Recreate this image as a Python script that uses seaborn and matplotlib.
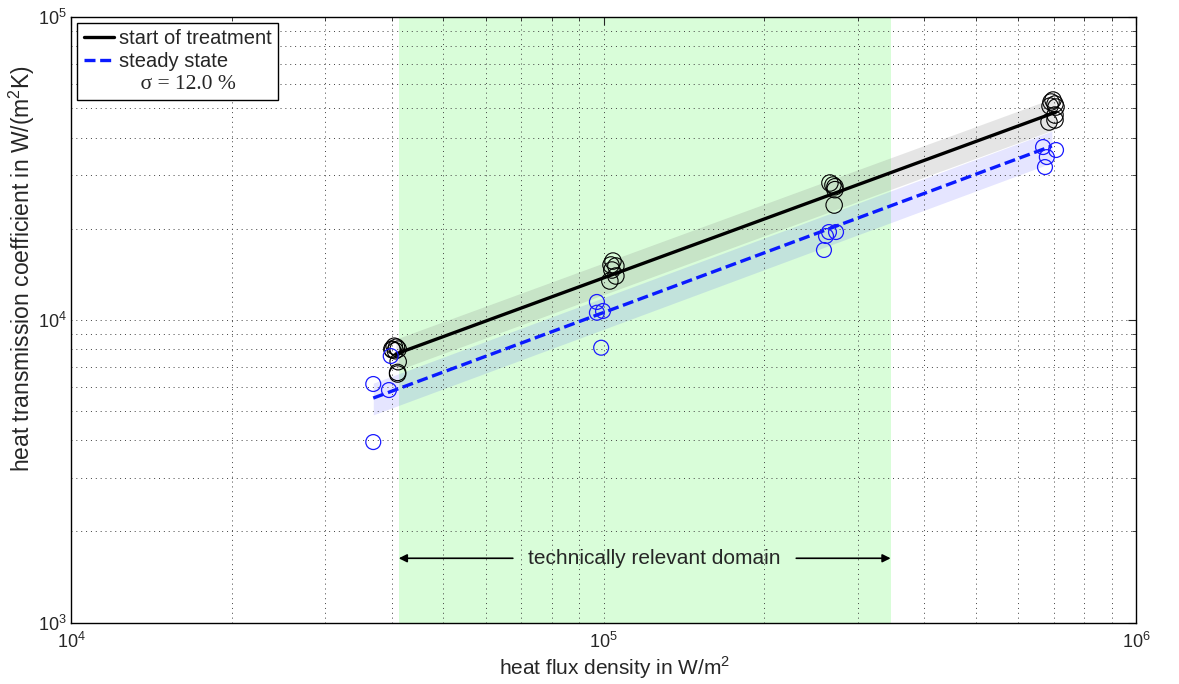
import numpy as np
import matplotlib
matplotlib.use("Agg")
import matplotlib.pyplot as plt
from matplotlib.lines import Line2D
import seaborn as sns

# Measured heat transmission coefficients (W/(m^2 K)) vs heat flux density (W/m^2)
start_x = [40000, 40400, 40800, 41100, 40600, 40100, 41100, 41000, 41000,
           104100, 103200, 105400, 103600, 105400, 102700,
           266100, 269600, 271900, 271900, 271000,
           698500, 692500, 704500, 689500, 707600, 704500, 704500, 686500]
start_y = [8000, 8180, 8120, 8000, 7900, 7950, 7270, 6700, 6620,
           15630, 15170, 15050, 14600, 13950, 13430,
           28300, 27870, 27500, 26900, 23930,
           53200, 52400, 51600, 50800, 50430, 47450, 45700, 45000]

steady_x = [36900, 39500, 39800, 36900,
            97100, 97100, 99700, 98900,
            261600, 265000, 273200, 259300,
            669000, 680000, 707600, 674600]
steady_y = [6135, 5860, 7590, 3945,
            11450, 10550, 10690, 8085,
            18910, 19490, 19490, 17000,
            37200, 34470, 36370, 31950]

# Power-law fit lines (end points)
start_fit_x = [40700, 707000]
start_fit_y = [7710, 48500]
steady_fit_x = [36900, 695000]
steady_fit_y = [5513, 37500]

sigma = 0.12
domain = [41200, 346000]

sns.set_style("white")
plt.rcParams["font.family"] = ["Liberation Sans", "DejaVu Sans"]
plt.rcParams["mathtext.fontset"] = "custom"
plt.rcParams["mathtext.rm"] = "Liberation Sans"

fig = plt.figure(figsize=(11.79, 6.84), dpi=100)
ax = fig.add_axes([0.0606, 0.0899, 0.9029, 0.8852])
ax.set_xscale("log")
ax.set_yscale("log")
ax.set_xlim(1e4, 1e6)
ax.set_ylim(1e3, 1e5)

# technically relevant domain
ax.axvspan(domain[0], domain[1], color="#d9fdd9", zorder=0.2, lw=0)

# scatter bands (+/- sigma) around the fits
def band(xs, ys, n=50):
    lx = np.linspace(np.log10(xs[0]), np.log10(xs[1]), n)
    ly = np.interp(lx, np.log10(xs), np.log10(ys))
    return 10 ** lx, 10 ** ly

bx, by = band(start_fit_x, start_fit_y)
ax.fill_between(bx, by * (1 - sigma), by * (1 + sigma), color="0.5", alpha=0.2, lw=0, zorder=1)
bx, by = band(steady_fit_x, steady_fit_y)
ax.fill_between(bx, by * (1 - sigma), by * (1 + sigma), color="#0000ff", alpha=0.1, lw=0, zorder=1)

# fitted lines
dash = [3.3, 1.4]
sns.lineplot(x=start_fit_x, y=start_fit_y, ax=ax, color="black", lw=2.4, zorder=3)
sns.lineplot(x=steady_fit_x, y=steady_fit_y, ax=ax, color="#0a1aff", lw=2.4, zorder=3)
ax.lines[-1].set_dashes(dash)

# measurement points (open circles)
sns.scatterplot(x=start_x, y=start_y, ax=ax, marker="o", s=140, zorder=4)
ax.collections[-1].set_facecolor("none")
ax.collections[-1].set_edgecolor("black")
ax.collections[-1].set_linewidth(0.8)
sns.scatterplot(x=steady_x, y=steady_y, ax=ax, marker="o", s=115, zorder=4)
ax.collections[-1].set_facecolor("none")
ax.collections[-1].set_edgecolor("#1a1aff")
ax.collections[-1].set_linewidth(0.9)

# grid, ticks, frame
ax.set_axisbelow("line")
ax.grid(True, which="both", linestyle=(0, (1, 4)), color="0.25", linewidth=0.7)
ax.tick_params(which="both", direction="in", top=True, right=True, labelsize=13)
ax.tick_params(axis="x", which="both", pad=7)
ax.tick_params(which="major", length=6, width=0.8)
ax.tick_params(which="minor", length=3, width=0.6)
for s in ax.spines.values():
    s.set_linewidth(1.0)
    s.set_color("black")

ax.set_xlabel("heat flux density in W/m$^2$", fontsize=15, labelpad=1)
ax.xaxis.set_label_coords(0.51, -0.052)
ax.set_ylabel("heat transmission coefficient in W/(m$^2$K)", fontsize=16.5)
ax.yaxis.set_label_coords(-0.032, 0.584)

# domain annotation
y_arrow = 1630
ax.text(124300, y_arrow, "technically relevant domain", ha="center", va="center", fontsize=15)
arrow = dict(arrowstyle="-|>", color="black", lw=1.2, mutation_scale=12, shrinkA=0, shrinkB=0)
ax.annotate("", xy=(domain[0], y_arrow), xytext=(67500, y_arrow), arrowprops=arrow)
ax.annotate("", xy=(domain[1], y_arrow), xytext=(230000, y_arrow), arrowprops=arrow)

# legend
handles = [Line2D([], [], color="black", lw=2.4),
           Line2D([], [], color="#0a1aff", lw=2.4, dashes=dash),
           Line2D([], [], color="none")]
labels = ["start of treatment", "steady state", "    \u03c3 = 12.0 %"]
leg = ax.legend(handles, labels, loc="upper left", fontsize=14.5, fancybox=False,
                framealpha=1, edgecolor="black", borderaxespad=0.3, handlelength=1.5,
                handletextpad=0.25, labelspacing=0.2, borderpad=0.3)
leg.get_frame().set_linewidth(1.0)
leg.get_texts()[2].set_fontfamily(["Liberation Serif", "DejaVu Serif"])
leg.get_texts()[2].set_fontsize(15.5)

fig.savefig("out.png", dpi=100)
